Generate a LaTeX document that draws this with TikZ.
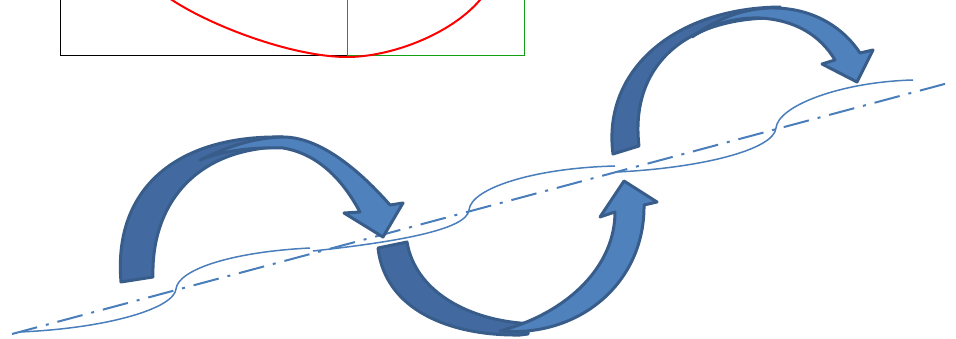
\documentclass[tikz,border=0pt]{standalone}
\usepackage{xcolor}
\definecolor{axisblue}{RGB}{74,126,187}
\definecolor{frontfill}{RGB}{79,129,189}
\definecolor{backfill}{RGB}{66,106,160}
\definecolor{edgeblue}{RGB}{56,93,138}
\definecolor{rgreen}{RGB}{20,160,20}
\begin{document}
\begin{tikzpicture}[x=1pt,y=-1pt,
  wave/.style={draw=axisblue, line width=1.5pt},
  axisline/.style={draw=axisblue, line width=2pt, dash pattern=on 26pt off 9pt on 3pt off 9pt},
  backband/.style={fill=backfill, draw=edgeblue, line width=3pt, line join=round},
  frontband/.style={fill=frontfill, draw=edgeblue, line width=3pt, line join=round}]
\useasboundingbox (0,0) rectangle (956,339);
\clip (0,0) rectangle (956,339);
% frame at top
\draw[black, line width=1pt] (60,-5) -- (60,56) -- (347,56);
\draw[rgreen, line width=1pt] (347,-5) -- (347,56) -- (524,56) -- (524,-5);
\draw[red, line width=2pt] (160,-8) -- (172,0) .. controls (215,28) and (295,57) .. (347,57) .. controls (390,57) and (450,35) .. (480,0) -- (487,-8);
% axis and wave
\coordinate (axA) at (12,334);
\coordinate (axB) at (952,82);
\draw[axisline] (axA) -- (axB);
\draw[wave] (20,332) .. controls (110,328) and (174,308) .. (176,289) .. controls (178,270) and (230,252) .. (310,248);
\draw[wave] (313,251) .. controls (395,242) and (467,230) .. (469,210) .. controls (471,188) and (535,168) .. (615,166);
\draw[wave] (617,172) .. controls (700,168) and (774,150) .. (776,128) .. controls (778,106) and (840,82) .. (913,80);
% arrow 1
\filldraw[backband] (121,282) .. controls (113,190) and (175,135) .. (283,137) -- (283,147)
  .. controls (195,148) and (151,205) .. (153,277) -- cycle;
\filldraw[frontband] (200,160) .. controls (225,148) and (250,138) .. (283,137)
  .. controls (325,137) and (368,180) .. (390,205) -- (403,203) -- (383,237) -- (344,213) -- (360,212)
  .. controls (348,190) and (325,155) .. (283,148) .. controls (255,147) and (225,150) .. (200,160) -- cycle;
% arrow 2
\filldraw[backband] (378,248) .. controls (385,310) and (450,336) .. (520,335) -- (528,334) -- (528,323) -- (520,323)
  .. controls (465,318) and (415,290) .. (407,242) -- cycle;
\filldraw[frontband] (500,331) .. controls (580,338) and (645,282) .. (644,205) -- (657,202) -- (624,181) -- (600,217) -- (615,212)
  .. controls (615,265) and (570,312) .. (500,331) -- cycle;
% arrow 3
\filldraw[backband] (613,154) .. controls (602,70) and (675,8) .. (780,7) -- (780,18)
  .. controls (680,16) and (630,70) .. (639,146) -- cycle;
\filldraw[frontband] (692,37) .. controls (715,20) and (740,9) .. (770,8)
  .. controls (815,7) and (845,30) .. (860,53) -- (873,50) -- (857,82) -- (822,64) -- (835,60)
  .. controls (820,35) and (795,20) .. (760,18) .. controls (735,17) and (710,25) .. (692,37) -- cycle;
\end{tikzpicture}
\end{document}
